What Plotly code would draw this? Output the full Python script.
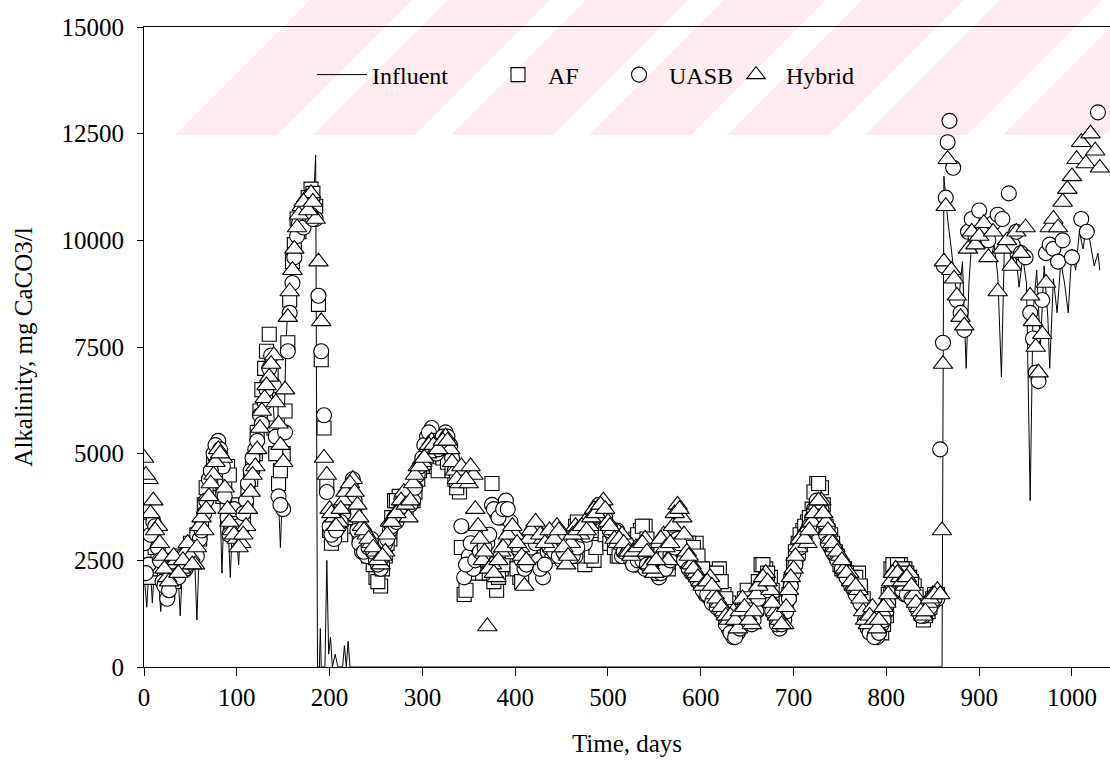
import plotly.graph_objects as go

# ---------------- data ----------------
eff_days = [0, 5, 10, 15, 20, 25, 30, 35, 40, 45, 50, 55, 60, 65, 70, 75, 80, 85, 90, 95,
            100, 105, 110, 115, 120, 125, 130, 135, 140, 145, 150, 155, 160, 165, 170, 175,
            180, 185, 188, 191, 194, 197, 200, 205, 210, 215, 220, 225, 230, 235, 240, 245,
            250, 255, 260, 265, 270, 275, 280, 285, 290, 295, 300, 305, 310, 315, 320, 325,
            330, 335, 340, 345, 350, 355, 360, 365, 370, 375, 380, 385, 390, 395, 400, 405,
            410, 415, 420, 425, 430, 435, 440, 445, 450, 455, 460, 465, 470, 475, 480, 485,
            490, 495, 500, 505, 510, 515, 520, 525, 530, 535, 540, 545, 550, 555, 560, 565,
            570, 575, 580, 585, 590, 595, 600, 605, 610, 615, 620, 625, 630, 635, 640, 645,
            650, 655, 660, 665, 670, 675, 680, 685, 690, 695, 700, 705, 710, 715, 720, 725,
            730, 735, 740, 745, 750, 755, 760, 765, 770, 775, 780, 785, 790, 795, 800, 805,
            810, 815, 820, 825, 830, 835, 840, 845, 850, 855]

mid_days = [2, 7, 12, 17, 22, 27, 32, 37, 42, 47, 52, 57, 62, 67, 72, 77, 82, 87, 92, 97,
            102, 107, 112, 117, 122, 127, 132, 137, 142, 147, 152, 157, 162, 167, 172, 177, 182,
            202, 207, 212, 217, 222, 227, 232, 237, 242, 247,
            252, 257, 262, 267, 272, 277, 282, 287, 292, 297,
            302, 307, 312, 317, 322, 327, 332, 337, 342, 347,
            352, 357, 362, 367, 372, 377, 382, 387, 392, 397,
            402, 407, 412, 417, 422, 427, 432, 437, 442, 447,
            452, 457, 462, 467, 472, 477, 482, 487, 492, 497,
            502, 507, 512, 517, 522, 527, 532, 537, 542, 547,
            552, 557, 562, 567, 572, 577, 582, 587, 592, 597,
            602, 607, 612, 617, 622, 627, 632, 637, 642, 647,
            652, 657, 662, 667, 672, 677, 682, 687, 692, 697,
            702, 707, 712, 717, 722, 727, 732, 737, 742, 747,
            752, 757, 762, 767, 772, 777, 782, 787, 792, 797,
            802, 807, 812, 817, 822, 827, 832, 837, 842, 847,
            852]

af_vals = [3300, 2700, 2400, 2500, 2300, 2400, 2200, 2300, 2600, 2500, 2900, 2900, 3000, 3800,
           4300, 4800, 4600, 4000, 4700, 3700, 3600, 3500, 3800, 4400, 5000, 6000, 7000, 7800,
           5600, 4300, 5000, 7600, 9500, 10500, 10400, 10800, 11200, 10800, 8500, 7200, 5600,
           4300, 3200, 3100, 3200, 3300, 3700, 3800, 3300, 2900, 2700, 2800, 2100, 1900, 2600,
           3000, 3900, 4000, 3800, 4000, 3900, 4400, 4700, 5000, 5100, 4700, 4800, 4900, 4700,
           4400, 4100, 1700, 2200, 2400, 2600, 2200, 2400, 4300, 1800, 2300, 2600, 2900, 2500,
           2100, 2400, 2800, 2900, 2600, 2800, 2900, 3100, 2700, 2800, 3000, 2600, 3300, 3200,
           2400, 2700, 2500, 3100, 3300, 2900, 3000, 2600, 2700, 2600, 2800, 3000, 3200, 3300,
           2800, 2700, 2600, 2900, 2300, 3100, 2900, 2600, 2900, 2800, 2900, 2300, 2200, 1800,
           2000, 2300, 1700, 1500, 1000, 1200, 1400, 1800, 1300, 1600, 2400, 2300, 2100, 1500,
           1200, 1400, 1700, 2400, 2900, 3200, 3400, 3700, 4300, 4200, 3300, 3100, 2700, 2400,
           2300, 2100, 2000, 2200, 1600, 1200, 900, 1100, 800, 1200, 2300, 2400, 2400, 2300,
           2100, 1900, 1500, 1100, 1300, 1600, 1700]

af_mid = [3000, 2100, 2800, 2300, 2100, 2500, 2000, 2500, 2300, 2700,
          2600, 3100, 3300, 4200, 4500, 5000, 4400, 4300, 4500, 3500,
          3800, 3400, 4200, 4700, 5500, 6500, 7400, 6900, 5000, 4600,
          6000, 8600, 9900, 10200, 10600, 11000, 11100,
          2900, 3400, 3100, 3500, 3600, 3600, 3100, 2800, 2600, 2400,
          2000, 2300, 2900, 3500, 3900, 3800, 3900, 4000, 4100, 4600,
          4800, 4900, 4900, 4600, 4900, 4800, 4600, 4200, 2800, 1800,
          2500, 2500, 2400, 2500, 2200, 2000, 2100, 2400, 2800, 2700,
          2300, 2000, 2600, 3000, 2700, 2700, 3000, 3000, 2900, 2700,
          2900, 2800, 2900, 3400, 2900, 2600, 2600, 2800, 3200, 3100,
          2900, 2800, 2600, 2700, 2700, 2900, 3100, 3300, 3000, 2800,
          2600, 2800, 2600, 2700, 3000, 2800, 2800, 2900, 2800, 2600,
          2300, 2000, 1900, 2200, 2000, 1600, 1300, 1100, 1300, 1600,
          1500, 1400, 2000, 2400, 2200, 1800, 1300, 1300, 1500, 2000,
          2700, 3100, 3300, 3500, 4100, 4300, 3800, 3200, 2900, 2600,
          2300, 2200, 2100, 2100, 1900, 1400, 1000, 1000, 900, 1000,
          1700, 2400, 2400, 2300, 2200, 2000, 1700, 1300, 1200, 1400,
          1700]

uasb_pre = [2900, 2400, 3400, 2800, 2000, 1600, 2100, 2200, 2400, 2300, 2600, 2700, 3000, 3600,
            4400, 5000, 5300, 4700, 3500, 3300, 3500, 3200, 3900, 4600, 5100, 5900, 6200, 7000,
            6600, 4000, 3700, 7400, 9000, 10100, 10600, 10500, 10600, 10500, 8700, 7400, 5900,
            4100, 3300, 3000, 3300, 3600, 4000, 4400, 3200, 2700, 2600, 3000, 2500, 2300, 2900,
            3200, 3500, 3600, 3700, 3800, 3900, 4500, 4900, 5400, 5600, 5000, 5300, 5500, 5200,
            4600, 4400, 2100, 2600, 2300, 2800, 2600, 2900, 3800, 3600, 3500, 3900, 3400, 3000,
            2700, 2300, 2600, 3100, 2500, 2100, 2700, 2600, 2900, 2500, 2800, 2700, 2600, 3000,
            2900, 3400, 3500, 3800, 3700, 3300, 3100, 3200, 2600, 2900, 2500, 2400, 2600, 2300,
            2500, 2300, 2100, 2300, 2400, 2600, 3000, 2700, 2400, 2200, 2100, 1900, 1700, 1600,
            1500, 1400, 1200, 900, 700, 800, 1100, 1400, 1000, 1300, 1900, 2000, 1500, 1200,
            900, 1100, 1600, 2200, 2600, 3000, 3200, 3500, 3900, 3700, 3100, 2800, 2600, 2500,
            2200, 2000, 1800, 1600, 1400, 900, 800, 700, 1000, 1300, 1800, 2000, 1900, 1700,
            1800, 1500, 1300, 1200, 1400, 1500, 1600]

uasb_mid = [2200, 3100, 3300, 2500, 1900, 1800, 2300, 2100, 2600, 2400,
            2800, 2600, 3200, 3900, 4600, 5200, 5100, 4000, 3100, 3700,
            3300, 3600, 4300, 4900, 5300, 5700, 6500, 7300, 5400, 3800,
            5500, 8300, 9600, 10400, 10300, 10600, 10500,
            3100, 3200, 3400, 3800, 4200, 3900, 2900, 2700, 2800, 2700,
            2400, 2600, 3000, 3300, 3400, 3700, 3600, 3800, 4200, 4700,
            5200, 5500, 5300, 5100, 5400, 5400, 4900, 4500, 3300, 2400,
            2900, 2500, 2700, 2800, 3100, 3700, 3500, 3700, 3700, 3200,
            2800, 2500, 2400, 2800, 2900, 2300, 2400, 2800, 2700, 2600,
            2700, 2900, 2600, 2800, 3100, 3100, 3500, 3700, 3600, 3500,
            3200, 3200, 2900, 2700, 2700, 2400, 2500, 2500, 2400, 2400,
            2200, 2200, 2300, 2500, 2800, 2900, 2500, 2300, 2200, 2000,
            1800, 1700, 1500, 1400, 1300, 1000, 800, 700, 900, 1300,
            1200, 1100, 1600, 2000, 1800, 1300, 1000, 1000, 1300, 1900,
            2400, 2800, 3100, 3300, 3700, 3800, 3400, 2900, 2700, 2500,
            2300, 2100, 1900, 1700, 1500, 1100, 800, 700, 800, 1100,
            1500, 1900, 2000, 1800, 1700, 1600, 1400, 1200, 1300, 1400,
            1600]

hyb_pre = [4900, 4400, 3900, 3300, 2600, 2100, 2400, 2500, 2300, 2700, 2600, 2400, 3300, 3200,
           4000, 4500, 5100, 4900, 3700, 3200, 3000, 2900, 3300, 4100, 4700, 5600, 6300, 6800,
           7300, 5700, 4800, 8200, 9300, 10300, 10800, 11000, 11100, 10500, 9500, 8100, 4900,
           4500, 3700, 3500, 3400, 3900, 4200, 4400, 3800, 3300, 3100, 2900, 2700, 2400, 2700,
           3400, 3500, 3700, 4100, 3500, 4300, 4700, 4800, 5000, 5300, 5100, 5200, 5400, 5100,
           4600, 4300, 4600, 4300, 4500, 3300, 2500, 950, 2400, 2100, 2700, 2900, 3200, 3100,
           2800, 1900, 3000, 3300, 3200, 3000, 3100, 2800, 3300, 3000, 2400, 2900, 3300, 3100,
           3400, 3300, 3700, 3500, 3900, 3400, 3200, 2900, 3100, 2700, 2600, 2800, 2700, 3000,
           2400, 2200, 2900, 3100, 2500, 3300, 3800, 3500, 2700, 2400, 2200, 2000, 1900, 2100,
           1700, 1500, 1300, 1100, 1300, 900, 1600, 1200, 1000, 1700, 2000, 2200, 1800, 1300,
           1100, 1000, 1800, 2300, 2800, 3100, 2900, 3400, 3800, 3900, 3400, 3000, 2800, 2600,
           2300, 2200, 1900, 1800, 1300, 1000, 1400, 900, 1300, 1500, 2000, 2300, 2100, 1900,
           2200, 1700, 1400, 1200, 1500, 1700, 1800]

hyb_mid = [4500, 3600, 3200, 2900, 2300, 2000, 2600, 2200, 2500, 2900,
           2400, 2800, 3500, 3700, 4300, 4800, 5000, 4200, 3400, 3100,
           2800, 3100, 3700, 4500, 5100, 6000, 6600, 7100, 6200, 5200,
           6500, 8800, 9800, 10600, 10900, 10700, 10900,
           3600, 3300, 3700, 4100, 4300, 4100, 3500, 3200, 3000, 2800,
           2500, 2600, 3100, 3400, 3600, 3900, 3800, 3900, 4500, 4700,
           4900, 5200, 5200, 5100, 5300, 5300, 4800, 4400, 4700, 4400,
           4700, 3700, 3000, 2700, 2300, 2200, 2500, 2800, 3100, 3300,
           2900, 2600, 2500, 3200, 3400, 3100, 2900, 3200, 3000, 3200,
           2800, 2600, 3100, 3200, 3300, 3200, 3500, 3600, 3800, 3700,
           3300, 3000, 3000, 2900, 2700, 2700, 2800, 2900, 2700, 2300,
           2500, 3000, 2800, 2900, 3600, 3700, 3100, 2600, 2300, 2100,
           1900, 2000, 1900, 1600, 1400, 1200, 1200, 1100, 1300, 1400,
           1100, 1300, 1900, 2100, 2000, 1500, 1200, 1000, 1400, 2100,
           2600, 3000, 3000, 3200, 3600, 3900, 3600, 3200, 2900, 2700,
           2500, 2200, 2000, 1900, 1600, 1100, 1200, 1100, 1100, 1400,
           1700, 2200, 2200, 2000, 2100, 1900, 1500, 1300, 1300, 1600,
           1700]

uasb_post_days = [858, 861, 862, 864, 866, 868, 872, 876, 880, 884, 888, 892, 896, 900, 905,
                  910, 915, 920, 925, 932, 936, 940, 945, 950, 955, 958, 961, 964, 968, 972,
                  976, 980, 985, 990, 1000, 1010, 1016, 1028]
uasb_post = [5100, 7600, 9400, 11000, 12300, 12800, 11700, 8600, 8300, 7900, 10200, 10500,
             10100, 10700, 10300, 10000, 10400, 10600, 10500, 11100, 9900, 10200, 9700, 9600,
             8300, 7700, 6900, 6700, 8600, 9700, 9900, 9800, 9500, 10000, 9600, 10500, 10200,
             13000]

hyb_post_days = [858, 860, 861, 862, 864, 866, 870, 873, 876, 880, 884, 888, 892, 896, 900,
                 905, 910, 915, 920, 925, 930, 935, 940, 945, 950, 955, 958, 961, 964, 968,
                 972, 976, 980, 985, 990, 995, 1000, 1005, 1010, 1015, 1020, 1025, 1030]
hyb_post = [1700, 3200, 7100, 9500, 10800, 11900, 9300, 9100, 8700, 8200, 8000, 9800, 10200,
            9900, 10100, 10400, 9600, 10200, 8800, 9800, 10000, 9400, 10200, 9700, 10300, 8700,
            8100, 7500, 6900, 7800, 9000, 10300, 10500, 10300, 10900, 11200, 11500, 11900, 12300,
            11800, 12500, 12100, 11700]

inf_days = [0, 3, 6, 9, 12, 15, 18, 21, 24, 27, 30, 33, 36, 39, 42, 45, 48, 51, 54, 57, 60,
            63, 66, 69, 72, 75, 78, 81, 84, 87, 90, 93, 96, 99, 102, 105, 108, 111, 114, 117,
            120, 123, 126, 129, 132, 135, 138, 141, 144, 147, 150, 153, 156, 159, 162, 165,
            168, 171, 174, 177, 180, 183, 185, 187, 189, 190, 191, 195, 197, 199, 201, 203,
            206, 209, 214, 216, 218, 220, 222, 230, 300, 400, 500, 600, 700, 800, 860, 862,
            866, 870, 874, 878, 882, 886, 889, 892, 896, 900, 904, 908, 912, 916, 920, 924,
            927, 931, 935, 939, 943, 947, 951, 955, 958, 962, 966, 970, 974, 976, 980, 984,
            988, 992, 996, 1000, 1004, 1008, 1012, 1016, 1020, 1024, 1028, 1030]
inf_vals = [2200, 1400, 2600, 1500, 2700, 2400, 1300, 2200, 1900, 2400, 2100, 1600, 2500, 1200,
            2600, 2400, 2800, 2500, 2900, 1100, 3000, 3200, 3900, 4300, 4500, 4800, 5000, 4600,
            2200, 4200, 3600, 2100, 3800, 3300, 2400, 3700, 3900, 3100, 4300, 4800, 5200, 5700,
            6300, 6900, 7300, 7100, 6500, 5600, 4400, 2800, 4600, 7600, 8800, 9600, 10100,
            10400, 10700, 10500, 10900, 11000, 11300, 11000, 12000, 0, 0, 900, 0, 0, 2500, 300,
            700, 0, 300, 0, 0, 500, 0, 600, 0, 0, 0, 0, 0, 0, 0, 0, 0, 11500, 10500, 9800, 9000,
            8600, 9500, 7000, 9000, 10000, 9700, 10300, 9900, 10200, 9500, 9900, 9200, 6800,
            9700, 10100, 9400, 9800, 8900, 9600, 9000, 3900, 8300, 9300, 7500, 9400, 8200, 7000,
            9100, 8300, 9500, 9000, 8300, 9800, 9300, 10200, 9800, 10400, 9900, 9400, 9700, 9300]

x_ticks = [0, 100, 200, 300, 400, 500, 600, 700, 800, 900, 1000]
y_ticks = [0, 2500, 5000, 7500, 10000, 12500, 15000]
y_tick_text = ["0", "2500", "5000", "7500", "10000", "12500", "15000"]

FONT = "Liberation Serif"

# ---------------- figure ----------------
fig = go.Figure()

fig.add_trace(go.Scatter(
    x=inf_days, y=inf_vals, mode="lines", name="Influent", legend="legend",
    line=dict(color="black", width=1)))

mk_line = dict(color="black", width=1.1)
fig.add_trace(go.Scatter(
    x=eff_days + mid_days, y=af_vals + af_mid, mode="markers", name="AF",
    legend="legend2",
    marker=dict(symbol="square", size=14, color="white", line=mk_line)))
fig.add_trace(go.Scatter(
    x=eff_days + mid_days + uasb_post_days, y=uasb_pre + uasb_mid + uasb_post,
    mode="markers", name="UASB", legend="legend3",
    marker=dict(symbol="circle", size=15, color="white", line=mk_line)))
fig.add_trace(go.Scatter(
    x=eff_days + mid_days + hyb_post_days, y=hyb_pre + hyb_mid + hyb_post,
    mode="markers", name="Hybrid", legend="legend4",
    marker=dict(symbol="triangle-up", size=17, color="white", line=mk_line)))

# faint diagonal watermark stripes at the top of the page (scan artefact)
L, R, T, B = 144, 1110, 27, 667
W, H = R - L, B - T
def px(xp):
    return (xp - L) / W
def py(yp):
    return (B - yp) / H
shapes = []
for k in range(8):
    x0 = 175 + 138 * k
    x1 = x0 + 102
    path = (f"M {px(x0)} {py(135)} L {px(x1)} {py(135)} "
            f"L {px(x1 + 135)} {py(0)} L {px(x0 + 135)} {py(0)} Z")
    shapes.append(dict(type="path", path=path, xref="paper", yref="paper",
                       fillcolor="#fdecef", line=dict(width=0), layer="below"))

leg_common = dict(orientation="h", y=0.925, xanchor="left", yanchor="middle",
                  bgcolor="rgba(0,0,0,0)", borderwidth=0, itemwidth=50,
                  font=dict(family=FONT, size=24, color="black"))
fig.update_layout(
    width=1110, height=763,
    margin=dict(l=L, r=1110 - R, t=T, b=763 - B),
    paper_bgcolor="white", plot_bgcolor="rgba(0,0,0,0)",
    font=dict(family=FONT, size=25, color="black"),
    shapes=shapes,
    showlegend=True,
    legend=dict(x=0.1739, **leg_common),
    legend2=dict(x=0.3561, **leg_common),
    legend3=dict(x=0.4814, **leg_common),
    legend4=dict(x=0.6025, **leg_common),
)
fig.update_xaxes(
    range=[0, 1041], tickvals=x_ticks, ticks="outside", ticklen=8, tickwidth=1,
    tickcolor="black", showline=True, linecolor="black", linewidth=1, mirror=True,
    showgrid=False, zeroline=False, tickfont=dict(family=FONT, size=25),
    title=dict(text="Time, days", font=dict(family=FONT, size=25), standoff=24))
fig.update_yaxes(
    range=[0, 15000], tickvals=y_ticks, ticktext=y_tick_text, ticks="outside", ticklen=6,
    tickwidth=1, tickcolor="black", showline=True, linecolor="black", linewidth=1,
    mirror=True, showgrid=False, zeroline=False, tickfont=dict(family=FONT, size=25),
    ticklabelstandoff=8,
    title=dict(text="Alkalinity, mg CaCO3/l", font=dict(family=FONT, size=25), standoff=21))

fig.write_html("out.html")
